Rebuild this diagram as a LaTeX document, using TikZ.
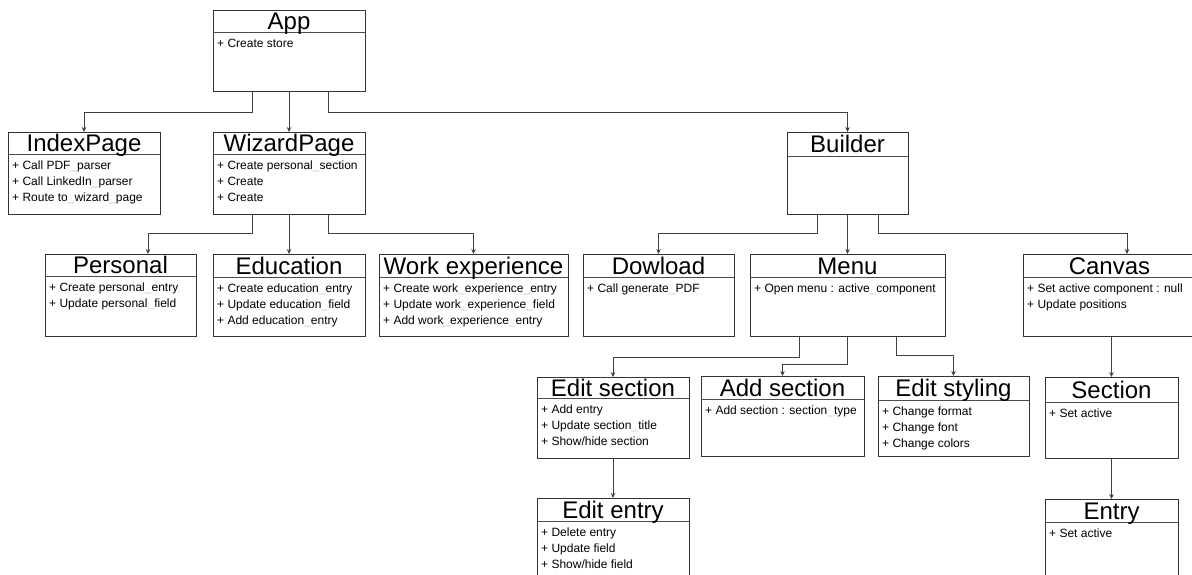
\documentclass[tikz,border=0pt]{standalone}
\usepackage{fontspec}
\setmainfont{Liberation Sans}
\usetikzlibrary{arrows.meta,calc}
\newcommand\us{{\color{black!22}\_}}
% #1 name, #2 x1, #3 y1, #4 x2, #5 y2, #6 y of divider, #7 title, #8 body
\newcommand\umlcls[8]{%
  \node[clsbox, minimum width={#4-#2}, minimum height={#5-#3}] (#1) at ({(#2+#4)/2},{(#3+#5)/2}) {};
  \draw[clsline] (#2,#6) -- (#4,#6);
  \node[ttl] (#1-t) at ({(#2+#4)/2},{(#3+#6)/2+8.6}) {#7};
  \node[bdy] (#1-b) at ({#2+4},{#6+5.5}) {\rule{0pt}{10pt}#8};
}
\begin{document}
\begin{tikzpicture}[x=1pt,y=-1pt,
  clsbox/.style={draw=black!80, line width=0.9pt, rectangle, inner sep=0pt, outer sep=0pt},
  clsline/.style={draw=black!70, line width=0.9pt},
  ttl/.style={anchor=base, inner sep=0pt, font=\fontsize{24}{28}\selectfont},
  bdy/.style={anchor=north west, inner sep=0pt, align=left, font=\fontsize{12}{15.7}\selectfont},
  conn/.style={draw=black!75, line width=0.8pt, -{Stealth[length=5pt,width=4.5pt]}}]
\useasboundingbox (0,0) rectangle (1192,575);

\umlcls{app}{213}{10}{365}{91}{32}{App}{+ Create store}
\umlcls{index}{8}{132}{160}{214}{154}{IndexPage}{+ Call PDF\us parser\\+ Call LinkedIn\us parser\\+ Route to\us wizard\us page}
\umlcls{wizard}{213}{132}{365}{214}{154}{WizardPage}{+ Create personal\us section\\+ Create\\+ Create}
\umlcls{builder}{787}{132}{908}{214}{156}{Builder}{}
\umlcls{personal}{45}{254}{196}{336}{276}{Personal}{+ Create personal\us entry\\+ Update personal\us field}
\umlcls{education}{213}{254}{365}{336}{277}{Education}{+ Create education\us entry\\+ Update education\us field\\+ Add education\us entry}
\umlcls{work}{379}{254}{568}{336}{277}{Work experience}{+ Create work\us experience\us entry\\+ Update work\us experience\us field\\+ Add work\us experience\us entry}
\umlcls{download}{583}{254}{734}{336}{277}{Dowload}{+ Call generate\us PDF}
\umlcls{menu}{750}{254}{945}{336}{277}{Menu}{+ Open menu : active\us component}
\umlcls{canvas}{1023}{254}{1196}{336}{277}{Canvas}{+ Set active component : null\\+ Update positions}
\umlcls{editsec}{537}{377}{689}{458}{398}{Edit section}{+ Add entry\\+ Update section\us title\\+ Show/hide section}
\umlcls{addsec}{701}{376}{864}{456}{399}{Add section}{+ Add section : section\us type}
\umlcls{editsty}{878}{376}{1029}{456}{400}{Edit styling}{+ Change format\\+ Change font\\+ Change colors}
\umlcls{section}{1045}{377}{1178}{458}{402}{Section}{+ Set active}
\umlcls{editentry}{537}{498}{689}{590}{521}{Edit entry}{+ Delete entry\\+ Update field\\+ Show/hide field}
\umlcls{entry}{1045}{499}{1178}{590}{522}{Entry}{+ Set active}

% App
\draw[conn] ([xshift=39]app.south west) -- ++(0,21) -| (index.north);
\draw[conn] (app.south) -- (wizard.north);
\draw[conn] ([xshift=115]app.south west) -- ++(0,21) -| (builder.north);
% WizardPage
\draw[conn] ([xshift=39]wizard.south west) -- ++(0,19) -| ([xshift=103]personal.north west);
\draw[conn] (wizard.south) -- (education.north);
\draw[conn] ([xshift=115]wizard.south west) -- ++(0,19) -| (work.north);
% Builder
\draw[conn] ([xshift=30]builder.south west) -- ++(0,19) -| (download.north);
\draw[conn] (builder.south) -- (menu.north);
\draw[conn] ([xshift=91]builder.south west) -- ++(0,19) -| ([xshift=104]canvas.north west);
% Menu
\draw[conn] ([xshift=49]menu.south west) -- ++(0,21) -| (editsec.north);
\draw[conn] (menu.south) -- ++(0,28) -| (addsec.north);
\draw[conn] ([xshift=146]menu.south west) -- ++(0,19) -| (editsty.north);
% Canvas, Section, Edit section
\draw[conn] (section.north |- canvas.south) -- (section.north);
\draw[conn] (section.south) -- (entry.north);
\draw[conn] (editsec.south) -- (editentry.north);
\end{tikzpicture}
\end{document}
